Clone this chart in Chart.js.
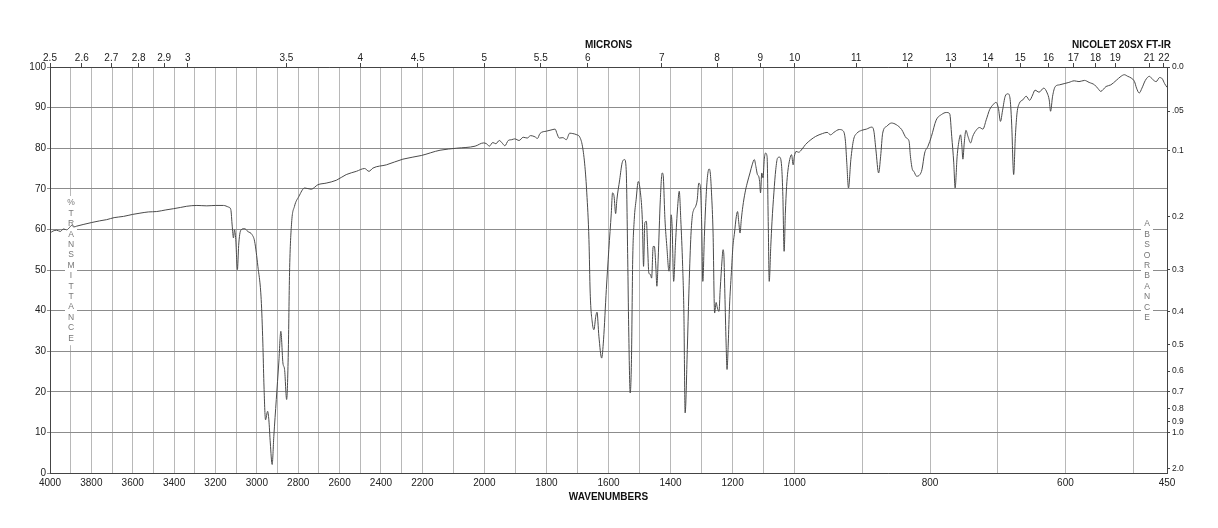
<!DOCTYPE html>
<html>
<head>
<meta charset="utf-8">
<script src="https://cdn.jsdelivr.net/npm/chart.js@4.4.1/dist/chart.umd.min.js"></script>
<style>
  html, body { margin: 0; padding: 0; background: #fff; }
  canvas { display: block; }
</style>
</head>
<body>
<canvas id="ir" width="1218" height="528"></canvas>
<script>
// spectrum (cm-1, %T)
const wavenumbers = [
  4000, 3985, 3968, 3950, 3935, 3919, 3905, 3895, 3885, 3871, 3840, 3798, 3760, 3726, 3690, 3645,
  3600, 3565, 3525, 3484, 3440, 3403, 3370, 3339, 3290, 3242, 3200, 3161, 3137, 3126, 3119, 3113,
  3108, 3102, 3094, 3088, 3083, 3076, 3060, 3044, 3023, 3011, 2995, 2979, 2971, 2966, 2958, 2948,
  2942, 2935, 2926, 2918, 2906, 2894, 2884, 2874, 2866, 2856, 2848, 2842, 2832, 2818, 2797, 2769,
  2737, 2705, 2665, 2616, 2568, 2519, 2479, 2458, 2439, 2374, 2294, 2205, 2143, 2089, 2030, 2003,
  1993, 1984, 1973, 1963, 1952, 1943, 1934, 1923, 1912, 1902, 1888, 1875, 1862, 1851, 1837, 1829,
  1821, 1800, 1779, 1772, 1766, 1759, 1747, 1736, 1725, 1715, 1702, 1693, 1684, 1676, 1670, 1663,
  1659, 1652, 1647, 1641, 1637, 1631, 1622, 1616, 1607, 1599, 1591, 1587, 1582, 1577, 1573, 1564,
  1556, 1548, 1543, 1538, 1535, 1530, 1526, 1522, 1517, 1511, 1504, 1497, 1491, 1487, 1483, 1478,
  1474, 1470, 1465, 1461, 1456, 1452, 1448, 1444, 1440, 1433, 1427, 1424, 1418, 1412, 1405, 1402,
  1398, 1395, 1390, 1384, 1377, 1372, 1367, 1361, 1357, 1353, 1346, 1341, 1335, 1330, 1325, 1319,
  1314, 1309, 1304, 1300, 1296, 1291, 1287, 1282, 1276, 1272, 1268, 1263, 1258, 1253, 1249, 1244,
  1240, 1234, 1231, 1228, 1225, 1221, 1218, 1214, 1210, 1204, 1199, 1194, 1188, 1184, 1180, 1176,
  1172, 1167, 1160, 1153, 1144, 1137, 1130, 1125, 1120, 1116, 1113, 1110, 1106, 1102, 1098, 1094,
  1089, 1085, 1082, 1077, 1073, 1067, 1061, 1055, 1049, 1042, 1038, 1034, 1030, 1026, 1022, 1016,
  1010, 1005, 1001, 998, 994, 989, 984, 976, 969, 959, 952, 947, 942, 934, 928, 925,
  923, 920.5, 917, 913, 908, 901, 894, 886, 883, 880, 876, 873, 870, 864, 857, 850,
  842, 835, 831, 829, 826, 824, 820, 815, 812, 808, 803, 798, 791, 783, 776, 771,
  768, 765, 763, 760, 757, 755, 753, 751.5, 749.5, 747, 744, 740, 737, 732, 727, 722,
  717, 712, 707, 702.5, 699, 696, 693, 689, 685, 682, 679.5, 676.5, 674, 671.5, 668, 663,
  658, 653, 648.5, 645, 639, 632, 627, 624, 622, 619, 615, 609, 602, 595, 587, 580,
  572, 565, 557, 552, 548, 540, 533, 525, 518, 513, 508, 503, 498, 495, 491, 487,
  482, 476, 471, 466, 461, 457, 453.5, 450
];
const transmittance = [
  59.1, 59.6, 59.8, 59.5, 60.1, 59.9, 60.5, 61.0, 60.6, 60.8, 61.2, 61.7, 62.1, 62.4, 62.9, 63.2,
  63.7, 64.0, 64.3, 64.4, 64.8, 65.1, 65.4, 65.7, 65.9, 65.8, 65.9, 65.9, 65.5, 64.9, 60.8, 57.9,
  59.9, 57.5, 50.1, 56.0, 58.7, 59.9, 60.2, 59.5, 58.7, 57.1, 50.9, 42.7, 32.0, 22.2, 13.1, 15.2,
  13.1, 7.4, 2.1, 9.0, 18.1, 27.1, 34.9, 27.1, 25.5, 18.1, 29.6, 49.3, 61.6, 65.7, 68.1, 70.2,
  69.9, 71.0, 71.4, 72.1, 73.5, 74.3, 75.0, 74.3, 75.1, 75.9, 77.3, 78.2, 79.5, 80.0, 80.5, 81.3,
  81.1, 80.5, 81.4, 81.1, 81.9, 81.3, 80.6, 81.9, 82.1, 82.3, 81.9, 82.7, 82.5, 83.1, 82.8, 82.4,
  83.6, 84.2, 84.6, 84.7, 83.6, 82.5, 82.6, 82.1, 83.7, 83.6, 83.3, 82.8, 80.5, 75.5, 69.0, 57.5,
  44.3, 36.9, 35.3, 38.6, 39.6, 33.7, 28.3, 32.8, 45.2, 55.0, 64.0, 69.0, 68.1, 63.9, 67.3, 72.2,
  76.4, 77.2, 74.7, 52.5, 36.1, 19.7, 27.9, 52.5, 62.4, 67.3, 71.8, 69.0, 62.4, 50.9, 61.6, 62.0,
  55.8, 49.3, 48.9, 48.0, 55.8, 55.8, 51.7, 46.0, 52.5, 67.3, 73.9, 73.5, 62.4, 55.8, 49.7, 52.5,
  63.6, 60.8, 47.2, 56.7, 65.7, 69.4, 62.4, 50.9, 39.4, 14.8, 30.4, 44.3, 57.5, 63.2, 64.9, 65.7,
  67.3, 71.4, 70.6, 62.4, 47.2, 58.3, 65.7, 72.2, 74.9, 73.9, 69.0, 59.1, 39.4, 42.0, 40.6, 39.8,
  45.2, 52.5, 55.0, 53.4, 44.3, 32.0, 25.5, 32.0, 41.1, 49.3, 55.8, 59.1, 63.2, 64.4, 61.6, 59.1,
  62.4, 65.7, 69.0, 71.4, 73.9, 75.9, 77.2, 75.5, 73.5, 73.1, 71.8, 69.0, 73.9, 72.7, 77.2, 78.8,
  78.0, 60.8, 47.2, 55.8, 62.0, 69.0, 74.7, 77.6, 77.8, 75.5, 68.1, 54.6, 64.0, 70.6, 74.3, 77.2,
  78.4, 75.9, 78.0, 79.2, 79.0, 79.8, 80.9, 82.1, 82.9, 83.6, 83.9, 83.3, 83.9, 84.6, 84.2, 81.7,
  76.4, 70.2, 77.2, 82.1, 83.7, 84.4, 84.7, 85.2, 84.2, 79.6, 73.9, 78.0, 83.7, 85.4, 86.2, 85.8,
  84.6, 82.5, 81.7, 78.0, 74.7, 74.3, 73.1, 73.5, 74.7, 78.8, 80.5, 82.9, 86.9, 88.3, 88.8, 88.5,
  82.9, 76.4, 70.2, 78.0, 82.1, 83.3, 80.5, 77.3, 81.3, 84.4, 82.9, 81.3, 82.9, 84.4, 85.1, 84.7,
  87.0, 89.5, 90.7, 91.3, 89.8, 86.6, 89.2, 92.8, 93.4, 92.4, 86.2, 73.5, 82.9, 88.7, 91.1, 91.9,
  92.8, 91.8, 93.1, 94.3, 93.8, 94.8, 93.6, 91.9, 89.1, 92.8, 95.2, 95.6, 95.9, 96.2, 96.6, 96.4,
  96.7, 96.2, 95.6, 94.7, 94.0, 95.2, 95.6, 96.7, 97.7, 98.1, 97.7, 97.3, 96.4, 94.8, 93.6, 94.8,
  96.7, 97.7, 96.9, 96.4, 97.4, 97.1, 95.9, 95.0
];

// axis ticks
const wnGrid = [];
for (let w = 4000; w >= 500; w -= 100) wnGrid.push(w);
wnGrid.push(450);
const wnLabels = [4000, 3800, 3600, 3400, 3200, 3000, 2800, 2600, 2400, 2200, 2000,
  1800, 1600, 1400, 1200, 1000, 800, 600, 450];
const micronTicks = [2.5, 2.6, 2.7, 2.8, 2.9, 3, 3.5, 4, 4.5, 5, 5.5, 6, 7, 8, 9, 10,
  11, 12, 13, 14, 15, 16, 17, 18, 19, 21, 22];
const absTicks = [0, 0.05, 0.1, 0.2, 0.3, 0.4, 0.5, 0.6, 0.7, 0.8, 0.9, 1.0, 2.0];
const absLabels = ['0.0', '.05', '0.1', '0.2', '0.3', '0.4', '0.5', '0.6', '0.7', '0.8', '0.9', '1.0', '2.0'];

// 4000-2200, 2200-1000 and 1000-450 each take a third of the width
const breaks = [4000, 2200, 1000, 450];
function waveToFrac(w) {
  const i = w >= breaks[1] ? 0 : (w >= breaks[2] ? 1 : 2);
  return (i + (breaks[i] - w) / (breaks[i] - breaks[i + 1])) / 3;
}
function fracToWave(f) {
  const i = Math.min(2, Math.max(0, Math.floor(f * 3)));
  return breaks[i] - (f * 3 - i) * (breaks[i] - breaks[i + 1]);
}

class WaveScale extends Chart.LinearScale {
  getPixelForValue(v) {
    if (v === null || v === undefined || isNaN(v)) return NaN;
    const w = this.options.microns ? 10000 / v : v;
    return this.getPixelForDecimal(waveToFrac(w));
  }
  getValueForPixel(p) {
    const w = fracToWave(this.getDecimalForPixel(p));
    return this.options.microns ? 10000 / w : w;
  }
}
WaveScale.id = 'wave';
WaveScale.defaults = Chart.LinearScale.defaults;
Chart.register(WaveScale);

const FONT = '"Liberation Sans", Arial, Helvetica, sans-serif';

const extraText = {
  id: 'extraText',
  beforeDatasetsDraw(chart) {
    const {ctx, chartArea} = chart;
    ctx.save();
    ctx.font = '8.5px ' + FONT;
    ctx.textAlign = 'center';
    ctx.textBaseline = 'middle';
    const cols = [
      [chartArea.left + 21, 203, '%TRANSMITTANCE'],
      [chartArea.right - 20, 224, 'ABSORBANCE']
    ];
    cols.forEach(([x, y0, word]) => {
      ctx.fillStyle = '#fff';
      ctx.fillRect(x - 6, y0 - 7, 12, (word.length - 1) * 10.4 + 14);
      ctx.fillStyle = '#777';
      [...word].forEach((c, i) => ctx.fillText(c, x, y0 + i * 10.4));
    });
    ctx.restore();
  },
  afterDraw(chart) {
    const {ctx, chartArea} = chart;
    ctx.save();
    ctx.font = 'bold 10px ' + FONT;
    ctx.fillStyle = '#111';
    ctx.textAlign = 'right';
    ctx.textBaseline = 'middle';
    ctx.fillText('NICOLET 20SX FT-IR', chartArea.right + 4, 45);
    ctx.restore();
  }
};

new Chart(document.getElementById('ir'), {
  type: 'line',
  data: {
    datasets: [{
      data: wavenumbers.map((w, i) => ({x: w, y: transmittance[i]})),
      borderColor: '#4a4a4a',
      borderWidth: 1,
      pointRadius: 0,
      cubicInterpolationMode: 'monotone',
      fill: false
    }]
  },
  options: {
    responsive: false,
    animation: false,
    devicePixelRatio: 1,
    layout: {padding: 0},
    plugins: {legend: {display: false}, tooltip: {enabled: false}},
    scales: {
      x: {
        type: 'wave',
        position: 'bottom',
        min: 450,
        max: 4000,
        bounds: 'data',
        afterBuildTicks: s => { s.ticks = wnGrid.map(v => ({value: v})); },
        afterFit: s => { s.height = 55; },
        grid: {color: '#b8b8b8', drawTicks: false},
        border: {color: '#444', width: 1},
        ticks: {
          autoSkip: false,
          maxRotation: 0,
          padding: 5,
          color: '#222',
          font: {family: FONT, size: 10, lineHeight: 1},
          callback: v => wnLabels.includes(v) ? String(v) : ''
        },
        title: {
          display: true,
          text: 'WAVENUMBERS',
          color: '#111',
          font: {family: FONT, size: 10, weight: 'bold'},
          padding: {top: 0, bottom: 25}
        }
      },
      x2: {
        type: 'wave',
        microns: true,
        position: 'top',
        min: 2.5,
        max: 10000 / 450,
        bounds: 'data',
        afterBuildTicks: s => { s.ticks = micronTicks.map(v => ({value: v})); },
        afterFit: s => { s.height = 67; },
        grid: {drawOnChartArea: false, drawTicks: true, tickLength: 4, color: '#444'},
        border: {color: '#444', width: 1},
        ticks: {
          autoSkip: false,
          maxRotation: 0,
          padding: 0,
          color: '#222',
          font: {family: FONT, size: 10, lineHeight: 1},
          callback: v => String(v)
        },
        title: {
          display: true,
          text: 'MICRONS',
          color: '#111',
          font: {family: FONT, size: 10, weight: 'bold'},
          padding: {top: 39, bottom: 0}
        }
      },
      y: {
        type: 'linear',
        position: 'left',
        min: 0,
        max: 100,
        afterFit: s => { s.width = 50; },
        grid: {color: '#8c8c8c', tickLength: 3},
        border: {color: '#444', width: 1},
        ticks: {
          stepSize: 10,
          padding: 1,
          color: '#222',
          font: {family: FONT, size: 10}
        }
      },
      yA: {
        type: 'linear',
        position: 'right',
        min: 0,
        max: 100,
        afterBuildTicks: s => { s.ticks = absTicks.map(a => ({value: 100 * Math.pow(10, -a)})); },
        afterFit: s => { s.width = 51; },
        grid: {drawOnChartArea: false, tickLength: 3, color: '#444'},
        border: {color: '#444', width: 1},
        ticks: {
          autoSkip: false,
          padding: 2,
          color: '#222',
          font: {family: FONT, size: 8.5},
          callback: (v, i) => absLabels[i]
        }
      }
    }
  },
  plugins: [extraText]
});
</script>
</body>
</html>
